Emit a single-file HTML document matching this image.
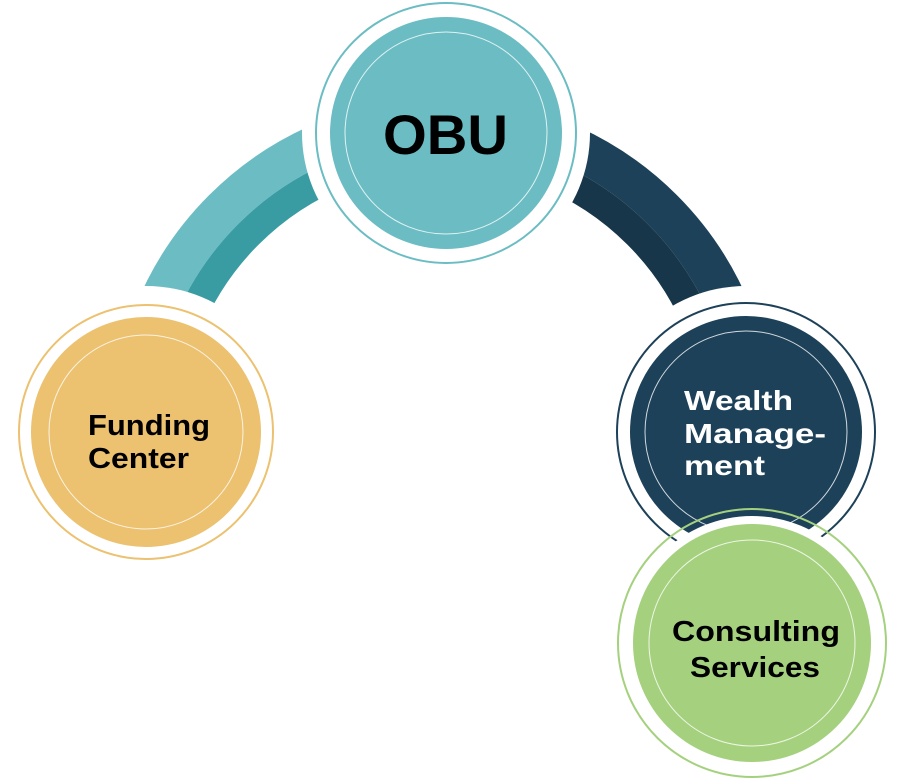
<!DOCTYPE html>
<html><head><meta charset="utf-8"><style>
html,body{margin:0;padding:0;background:#fff;}
svg{display:block;}
text{font-family:"Liberation Sans",sans-serif;font-weight:bold;}
</style></head><body>
<svg width="898" height="783" viewBox="0 0 898 783" xmlns="http://www.w3.org/2000/svg">
<path d="M 131.5 432 A 314.5 314.5 0 0 1 446 117.5" fill="none" stroke="#6bbdc3" stroke-width="41"/>
<path d="M 166.5 432 A 279.5 279.5 0 0 1 446 152.5" fill="none" stroke="#3a9ca3" stroke-width="29"/>
<path d="M 440 117.5 A 314.5 314.5 0 0 1 754.5 432" fill="none" stroke="#1d4159" stroke-width="41"/>
<path d="M 440 152.5 A 279.5 279.5 0 0 1 719.5 432" fill="none" stroke="#173649" stroke-width="29"/>
<circle cx="446" cy="133" r="144" fill="#fff"/>
<circle cx="446" cy="133" r="130" fill="none" stroke="#6bbdc3" stroke-width="2"/>
<circle cx="446" cy="133" r="116" fill="#6bbdc3"/>
<circle cx="446" cy="133" r="101" fill="none" stroke="#fff" stroke-width="1" opacity="0.8"/>
<text x="383" y="154" font-size="56" textLength="125" lengthAdjust="spacingAndGlyphs" fill="#000">OBU</text>
<circle cx="146" cy="432" r="146" fill="#fff"/>
<circle cx="146" cy="432" r="127" fill="none" stroke="#ecc170" stroke-width="2"/>
<circle cx="146" cy="432" r="115" fill="#ecc170"/>
<circle cx="146" cy="432" r="97" fill="none" stroke="#fff" stroke-width="1" opacity="0.8"/>
<text x="88" y="435" font-size="29" textLength="122" lengthAdjust="spacingAndGlyphs" fill="#000">Funding</text>
<text x="88" y="468" font-size="29" textLength="101" lengthAdjust="spacingAndGlyphs" fill="#000">Center</text>
<circle cx="746" cy="432" r="146" fill="#fff"/>
<circle cx="746" cy="432" r="129" fill="none" stroke="#1d4159" stroke-width="2"/>
<circle cx="746" cy="432" r="116" fill="#1d4159"/>
<circle cx="746" cy="432" r="101" fill="none" stroke="#fff" stroke-width="1" opacity="0.8"/>
<text x="684" y="410" font-size="28" textLength="109" lengthAdjust="spacingAndGlyphs" fill="#fff">Wealth</text>
<text x="684" y="443" font-size="28" textLength="142" lengthAdjust="spacingAndGlyphs" fill="#fff">Manage-</text>
<text x="684" y="475" font-size="28" textLength="81" lengthAdjust="spacingAndGlyphs" fill="#fff">ment</text>
<circle cx="752" cy="643" r="127" fill="#fff"/>
<circle cx="752" cy="643" r="134" fill="none" stroke="#a5d17f" stroke-width="2"/>
<circle cx="752" cy="643" r="119" fill="#a5d17f"/>
<circle cx="752" cy="643" r="103" fill="none" stroke="#fff" stroke-width="1" opacity="0.8"/>
<text x="672" y="641" font-size="29" textLength="168" lengthAdjust="spacingAndGlyphs" fill="#000">Consulting</text>
<text x="690" y="677" font-size="29" textLength="130" lengthAdjust="spacingAndGlyphs" fill="#000">Services</text>
</svg>
</body></html>
